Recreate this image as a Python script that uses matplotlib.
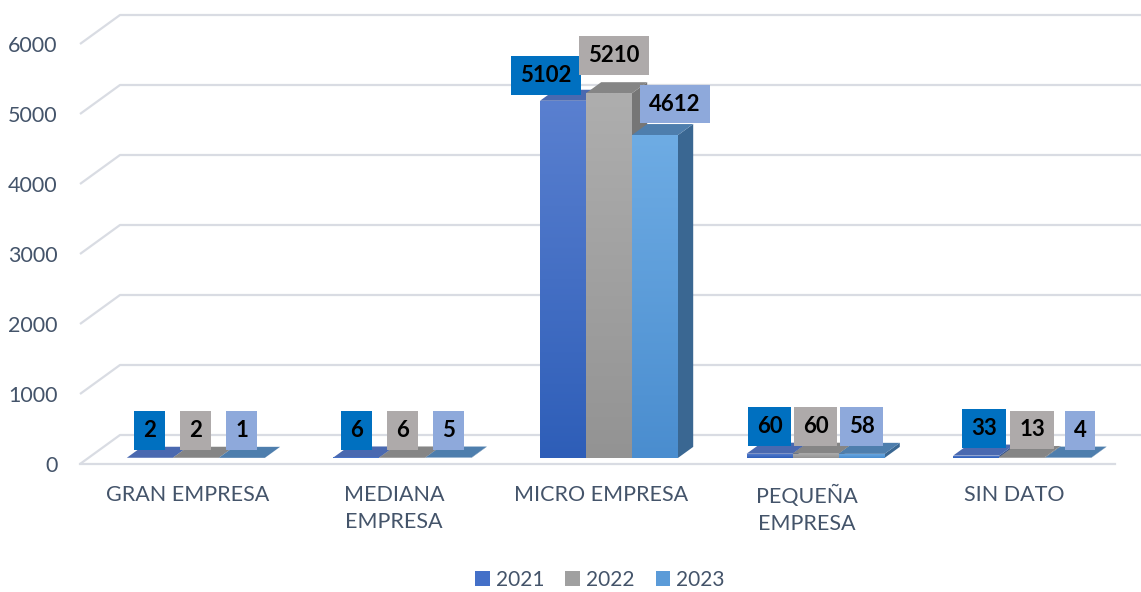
import numpy as np
import matplotlib.pyplot as plt
from matplotlib.patches import Polygon, Patch
from matplotlib.colors import LinearSegmentedColormap

plt.rcParams['font.family'] = ['Lato', 'DejaVu Sans']

# datos
categorias = ['GRAN EMPRESA', 'MEDIANA\nEMPRESA', 'MICRO EMPRESA', 'PEQUEÑA\nEMPRESA', 'SIN DATO']
anios = ['2021', '2022', '2023']
v2021 = [2, 6, 5102, 60, 33]
v2022 = [2, 6, 5210, 60, 13]
v2023 = [1, 5, 4612, 58, 4]
yticks = [0, 1000, 2000, 3000, 4000, 5000, 6000]

# colores por serie
frente = [('#5A80D0', '#2E5EB8'), ('#AEAEAE', '#939393'), ('#6EACE4', '#4A8DCF')]
tapa = ['#4A69B0', '#858585', '#4E7EAD']
lado = ['#34548F', '#767676', '#3A6792']
caja = ['#0070C0', '#AEAAAA', '#8EA9DB']
leyenda = ['#4470C8', '#A0A0A0', '#5B9BD8']
txt = '#44546A'
grid_c = '#D9DCE3'

fig = plt.figure(figsize=(11.41, 5.92), dpi=100)
ax = fig.add_axes([80 / 1141, 128 / 592, 1035 / 1141, 420 / 592])
ax.set_xlim(-0.52, 4.49)
ax.set_ylim(0, 6000)

# profundidad del efecto 3D (pixeles -> unidades de datos)
px_x = (4.49 + 0.52) / 1035
px_y = 6000 / 420
DX, DY = 40 * px_x, 29 * px_y
t0, t1 = 0.21, 0.59
w = 46 * px_x

# pared del fondo y piso
x0, x1 = ax.get_xlim()
for v in yticks:
    ax.plot([x0, x0 + DX, x1 + DX + 0.3], [v, v + DY, v + DY], color=grid_c, lw=1.6,
            clip_on=False, zorder=0, solid_capstyle='butt')
ax.plot([x0, x1], [0, 0], color=grid_c, lw=1.6, clip_on=False, zorder=0)

series = [v2021, v2022, v2023]
base = t0 * DY
ddx, ddy = (t1 - t0) * DX, (t1 - t0) * DY
grad = np.linspace(0, 1, 256).reshape(-1, 1)

# ajustes de posicion de etiquetas (pixeles)
nudge = {(2, 0): (-17, -2), (2, 1): (5, 11), (2, 2): (20, 4),
         (4, 0): (8, 0), (4, 1): (10, 0), (4, 2): (12, 0)}

z = 2
for i in range(len(categorias)):
    for j, vals in enumerate(series):
        v = vals[i]
        xc = i + (j - 1) * w + t0 * DX
        xl, xr = xc - w / 2, xc + w / 2
        top = base + v
        # lateral
        ax.add_patch(Polygon([(xr, base), (xr + ddx, base + ddy), (xr + ddx, top + ddy), (xr, top)],
                             closed=True, fc=lado[j], ec='none', zorder=z))
        # cara superior
        ax.add_patch(Polygon([(xl, top), (xl + ddx, top + ddy), (xr + ddx, top + ddy), (xr, top)],
                             closed=True, fc=tapa[j], ec='none', zorder=z + 0.1))
        # cara frontal con degradado
        bar = ax.bar(xc, v, width=w, bottom=base, color=frente[j][1], zorder=z + 0.2)[0]
        cm = LinearSegmentedColormap.from_list('g%d' % j, [frente[j][1], frente[j][0]])
        im = ax.imshow(grad, extent=[xl, xr, base, top], origin='lower', aspect='auto',
                       cmap=cm, zorder=z + 0.3, interpolation='bilinear')
        im.set_clip_path(bar)
        z += 1

        dxp, dyp = nudge.get((i, j), (0, 0))
        ax.annotate(str(v), (xc, top), xytext=(dxp * 0.72, (27 + dyp) * 0.72),
                    textcoords='offset points', ha='center', va='center',
                    fontsize=16, fontweight='bold', color='black', zorder=50,
                    annotation_clip=False,
                    bbox=dict(boxstyle='square,pad=0.4', fc=caja[j], ec='none'))

ax.set_xlim(x0, x1)
ax.set_ylim(0, 6000)
ax.set_yticks(yticks)
ax.set_xticks(range(len(categorias)), categorias)
ax.tick_params(axis='y', length=0, pad=16, labelsize=15.5, labelcolor=txt)
ax.tick_params(axis='x', length=0, pad=15, labelsize=15.5, labelcolor=txt)
for lab in ax.get_xticklabels():
    lab.set_linespacing(1.45)
for s in ax.spines.values():
    s.set_visible(False)
ax.patch.set_alpha(0)

handles = [Patch(fc=c, ec='none') for c in leyenda]
fig.legend(handles, anios, loc='lower center', bbox_to_anchor=(600 / 1141, -0.028), ncol=3,
           frameon=False, fontsize=15, handlelength=0.7, handleheight=0.7,
           handletextpad=0.3, columnspacing=1.0, labelcolor=txt)

fig.savefig('out.png', dpi=100)
